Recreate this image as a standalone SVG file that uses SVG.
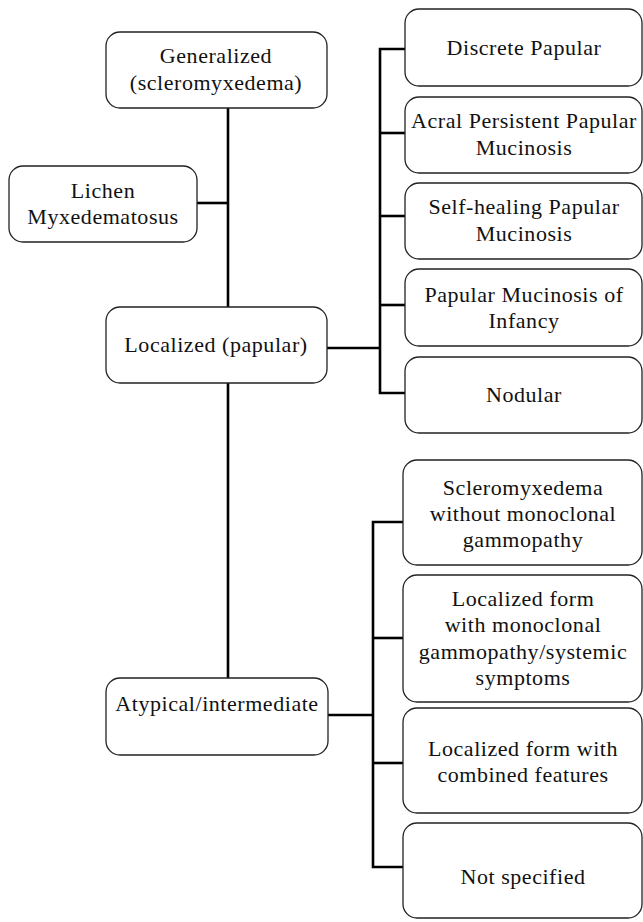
<svg xmlns="http://www.w3.org/2000/svg" width="643" height="922" viewBox="0 0 643 922">
<style>
.box{fill:#fff;stroke:#222;stroke-width:1.3}
.t{font-family:"Liberation Serif",serif;font-size:22px;letter-spacing:0.55px;fill:#111;text-anchor:middle}
.c{fill:none;stroke:#000;stroke-width:2.6}
</style>
<rect width="643" height="922" fill="#fff"/>
<g id="connectors">
<line class="c" x1="228" y1="108" x2="228" y2="307"/>
<line class="c" x1="228" y1="383" x2="228" y2="678"/>
<line class="c" x1="197" y1="203" x2="228" y2="203"/>
<line class="c" x1="327" y1="348" x2="380" y2="348"/>
<polyline class="c" points="405,49 380,49 380,393 405,393"/>
<line class="c" x1="380" y1="133" x2="405" y2="133"/>
<line class="c" x1="380" y1="216" x2="405" y2="216"/>
<line class="c" x1="380" y1="305" x2="405" y2="305"/>
<line class="c" x1="328" y1="715" x2="373" y2="715"/>
<polyline class="c" points="403,522 373,522 373,867 403,867"/>
<line class="c" x1="373" y1="638" x2="403" y2="638"/>
<line class="c" x1="373" y1="763" x2="403" y2="763"/>
</g>
<g id="generalized"><rect class="box" x="106" y="32" width="221" height="76" rx="14"/><text class="t" x="216" y="63">Generalized</text><text class="t" x="216" y="90">(scleromyxedema)</text></g>
<g id="lichen"><rect class="box" x="9" y="166" width="188" height="76" rx="14"/><text class="t" x="103" y="198">Lichen</text><text class="t" x="103" y="224">Myxedematosus</text></g>
<g id="localized"><rect class="box" x="106" y="307" width="221" height="76" rx="14"/><text class="t" x="216" y="352">Localized (papular)</text></g>
<g id="atypical"><rect class="box" x="106" y="678" width="222" height="77" rx="14"/><text class="t" x="217" y="711">Atypical/intermediate</text></g>
<g id="discrete"><rect class="box" x="405" y="9" width="237" height="77" rx="14"/><text class="t" x="524" y="55">Discrete Papular</text></g>
<g id="acral"><rect class="box" x="405" y="97" width="237" height="76" rx="14"/><text class="t" x="524" y="128">Acral Persistent Papular</text><text class="t" x="524" y="155">Mucinosis</text></g>
<g id="selfhealing"><rect class="box" x="405" y="183" width="237" height="76" rx="14"/><text class="t" x="524" y="214">Self-healing Papular</text><text class="t" x="524" y="241">Mucinosis</text></g>
<g id="infancy"><rect class="box" x="405" y="269" width="237" height="77" rx="14"/><text class="t" x="524" y="302">Papular Mucinosis of</text><text class="t" x="524" y="328">Infancy</text></g>
<g id="nodular"><rect class="box" x="405" y="357" width="237" height="76" rx="14"/><text class="t" x="524" y="402">Nodular</text></g>
<g id="sclero"><rect class="box" x="403" y="460" width="239" height="105" rx="14"/><text class="t" x="523" y="495">Scleromyxedema</text><text class="t" x="523" y="521">without monoclonal</text><text class="t" x="523" y="547">gammopathy</text></g>
<g id="monoclonal"><rect class="box" x="403" y="575" width="239" height="127" rx="14"/><text class="t" x="523" y="606">Localized form</text><text class="t" x="523" y="632">with monoclonal</text><text class="t" x="523" y="659">gammopathy/systemic</text><text class="t" x="523" y="685">symptoms</text></g>
<g id="combined"><rect class="box" x="403" y="708" width="239" height="105" rx="14"/><text class="t" x="523" y="756">Localized form with</text><text class="t" x="523" y="782">combined features</text></g>
<g id="notspecified"><rect class="box" x="403" y="823" width="239" height="95" rx="14"/><text class="t" x="523" y="884">Not specified</text></g>
</svg>
